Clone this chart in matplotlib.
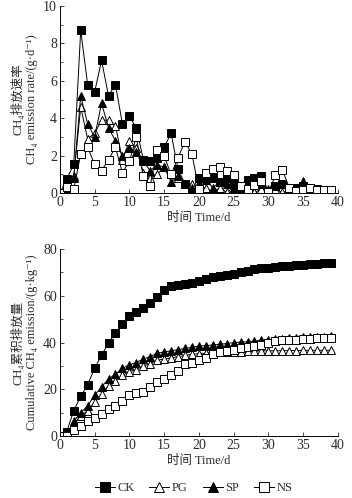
import numpy as np
import matplotlib.pyplot as plt
from matplotlib.ticker import MultipleLocator

plt.rcParams['font.family'] = ['Liberation Serif', 'DejaVu Serif', 'Noto Sans CJK SC']

# ______ data ______
days = list(range(40))

rate_ck = [0, 0.75, 1.55, 8.7, 5.8, 5.4, 7.1, 5.2, 5.8, 3.7, 4.1, 3.5, 1.8, 1.7, 1.9, 2.45,
           3.2, 1.3, 0.5, 0.2, 0.8, 0.8, 0.8, 0.6, 0.8, 0.5, 0.3, 0.7, 0.8, 0.9,
           0.1, 0.4, 0.5, 0.3, 0.3, 0.4, 0.3, 0.2, 0.15, 0.15]
rate_pg = [0, 0.05, 0.9, 4.6, 2.9, 3.2, 3.9, 3.9, 3.6, 1.8, 2.8, 2.4, 1.1, 0.8, 1.0, 1.4,
           1.0, 0.8, 0.5, 0.5, 0.2, 0.3, 0.05, 0.3, 0.05, 0.3, 0.05, 0.3, 0.05, 0.2,
           0.05, 0.2, 0.05, 0.1, 0.05, 0.05, 0.1, 0.05, 0.05, 0.05]
rate_sp = [0, 0.1, 0.8, 5.2, 3.7, 3.0, 4.8, 3.5, 2.8, 2.0, 2.4, 2.2, 1.7, 1.2, 1.5, 1.4,
           0.6, 0.9, 0.5, 0.3, 0.5, 0.7, 0.3, 0.6, 0.5, 0.3, 0.3, 0.5, 0.5, 0.5,
           0.2, 0.4, 0.5, 0.2, 0.2, 0.65, 0.2, 0.2, 0.1, 0.1]
rate_ns = [0, 0.35, 0.2, 2.1, 2.45, 1.55, 1.2, 1.8, 2.45, 1.1, 1.7, 3.0, 0.9, 0.4, 2.3, 2.0,
           1.0, 1.9, 2.75, 2.1, 0.2, 1.1, 1.3, 1.4, 1.2, 0.95, 0.4, 0.2, 0.45, 0.65,
           0.05, 0.95, 1.25, 0.3, 0.1, 0.15, 0.3, 0.15, 0.15, 0.15]

cum_ck = [0, 2, 11, 17, 22, 29, 34.5, 40, 44, 48, 51.5, 53, 55, 57, 59.5, 62.5,
          64, 64.5, 65, 65.5, 66.5, 67, 68, 68.5, 69, 69.5, 70, 70.5, 71.5, 72,
          72, 72.3, 72.6, 72.9, 73.1, 73.3, 73.5, 73.7, 73.9, 74]
cum_pg = [0, 0.3, 5.5, 8.5, 11, 14.5, 18, 21.5, 23.5, 26, 27.5, 28.5, 30, 31, 32.5, 33,
          33.5, 34, 34.5, 35, 35.3, 35.5, 35.7, 35.9, 36, 36.1, 36.2, 36.3, 36.4, 36.5,
          36.5, 36.5, 36.6, 36.6, 36.6, 36.7, 36.7, 36.7, 36.7, 36.7]
cum_sp = [0, 0.5, 6.5, 10, 13, 17.5, 21, 24.5, 26.5, 29, 30.5, 31.5, 33, 34, 35.5, 36,
          36.5, 37, 37.5, 38, 38.5, 38.7, 39, 39.3, 39.6, 40, 40.2, 40.4, 40.7, 41,
          41.2, 41.4, 41.6, 41.8, 42, 42.2, 42.3, 42.5, 42.6, 42.8]
cum_ns = [0, 0.2, 2.5, 4.5, 6.5, 8, 9.5, 11.5, 13, 15, 17.5, 18.5, 19, 21, 23, 24.5,
          26, 28, 31, 31.5, 32.5, 33.5, 35, 36, 36.5, 37, 37.5, 38, 38.5, 39,
          40, 40.5, 41, 41, 41, 41.5, 41.5, 42, 42, 42]

labels = ['CK', 'PG', 'SP', 'NS']
markers = ['s', '^', '^', 's']
fills = ['k', 'white', 'k', 'white']

# ______ plot ______
fig = plt.figure(figsize=(3.52, 4.98), dpi=100)
ax1 = fig.add_axes([0.170, 0.612, 0.790, 0.376])
ax2 = fig.add_axes([0.170, 0.124, 0.790, 0.376])

txt = '#2b2b2b'
for ax, series in [(ax1, [rate_ck, rate_pg, rate_sp, rate_ns]),
                   (ax2, [cum_ck, cum_pg, cum_sp, cum_ns])]:
    for y, lab, m, fc in zip(series, labels, markers, fills):
        ax.plot(days, y, '-', color='k', lw=0.7, marker=m, ms=5.5,
                mfc=fc, mec='k', mew=0.7, label=lab)
    ax.set_xlim(0, 40)
    ax.xaxis.set_major_locator(MultipleLocator(5))
    ax.spines['top'].set_visible(False)
    ax.spines['right'].set_visible(False)
    ax.spines['left'].set_linewidth(0.7)
    ax.spines['bottom'].set_linewidth(0.7)
    ax.tick_params(direction='in', length=3, width=0.6, labelsize=10, colors=txt, pad=2)
    ax.tick_params(which='minor', direction='in', length=2, width=0.5)
    ax.set_xlabel('时间 Time/d', fontsize=9, color=txt, labelpad=2)

ax1.set_ylim(0, 10)
ax1.yaxis.set_major_locator(MultipleLocator(2))
ax1.yaxis.set_minor_locator(MultipleLocator(1))
ax1.set_ylabel('CH₄排放速率\nCH₄ emission rate/(g·d⁻¹)', fontsize=9,
               color=txt, labelpad=4, linespacing=1.1)

ax2.set_ylim(0, 80)
ax2.yaxis.set_major_locator(MultipleLocator(20))
ax2.yaxis.set_minor_locator(MultipleLocator(10))
ax2.set_ylabel('CH₄累积排放量\nCumulative CH₄ emission/(g·kg⁻¹)', fontsize=9,
               color=txt, labelpad=4, linespacing=1.1)

handles, labs = ax2.get_legend_handles_labels()
fig.legend(handles, labs, loc='center', bbox_to_anchor=(0.55, 0.02), ncol=4,
           frameon=False, fontsize=9, handlelength=1.6, handletextpad=0.2,
           columnspacing=1.2, labelcolor=txt, markerscale=1.2)

plt.savefig('out.png', dpi=100)
